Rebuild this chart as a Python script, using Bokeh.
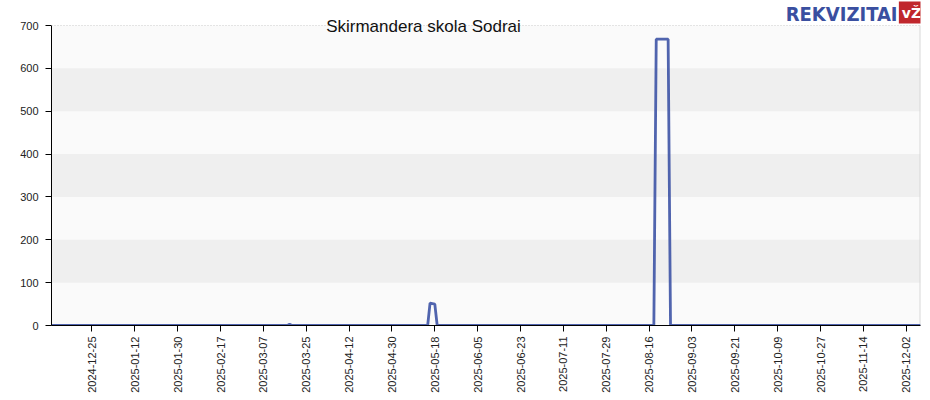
import pandas as pd
from math import pi
from bokeh.plotting import figure
from bokeh.models import (Range1d, FixedTicker, DatetimeTickFormatter, BoxAnnotation,
                          Span, Label)
from bokeh.embed import file_html
from bokeh.resources import INLINE

# ---- data ----
dates = ["2024-12-08", "2025-03-17", "2025-03-18", "2025-03-19", "2025-05-15",
         "2025-05-16", "2025-05-18", "2025-05-19", "2025-08-18", "2025-08-19",
         "2025-08-24", "2025-08-25", "2025-12-08"]
values = [0, 0, 3, 0, 0, 52, 50, 0, 0, 668, 668, 0, 0]

x_tick_labels = ["2024-12-25", "2025-01-12", "2025-01-30", "2025-02-17", "2025-03-07",
                 "2025-03-25", "2025-04-12", "2025-04-30", "2025-05-18", "2025-06-05",
                 "2025-06-23", "2025-07-11", "2025-07-29", "2025-08-16", "2025-09-03",
                 "2025-09-21", "2025-10-09", "2025-10-27", "2025-11-14", "2025-12-02"]
y_ticks = [0, 100, 200, 300, 400, 500, 600, 700]

title_text = "Skirmandera skola Sodrai"
x_start, x_end = "2024-12-08", "2025-12-08"

FONT = "Liberation Sans"

x = pd.to_datetime(dates)
xs = pd.Timestamp(x_start)
xe = pd.Timestamp(x_end)

# plot area 300px for 0..700; frame extends 25px higher to host the title and logo
y_top = y_ticks[-1] * 325 / 300

p = figure(x_axis_type="datetime", output_backend="svg", toolbar_location=None,
           frame_width=869, frame_height=325,
           min_border_left=51, min_border_right=2, min_border_top=0, min_border_bottom=67,
           x_range=Range1d(xs, xe), y_range=Range1d(0, y_top))
p.background_fill_color = "white"
p.border_fill_color = "white"
p.outline_line_color = None
p.xgrid.grid_line_color = None
p.ygrid.grid_line_color = None

# plot background and alternating bands
p.add_layout(BoxAnnotation(bottom=y_ticks[0], top=y_ticks[-1], fill_color="#fafafa",
                           fill_alpha=1.0, line_color=None, level="underlay"))
for i in range(len(y_ticks) - 1):
    if i % 2 == 1:
        p.add_layout(BoxAnnotation(bottom=y_ticks[i], top=y_ticks[i + 1],
                                   fill_color="#efefef", fill_alpha=1.0,
                                   line_color=None, level="underlay"))

p.add_layout(Span(location=y_ticks[-1], dimension="width", line_color="#cccccc",
                  line_dash="1 2", line_width=1))
p.segment(x0=[xe], y0=[y_ticks[0]], x1=[xe], y1=[y_ticks[-1]],
          line_color="#d8d8d8", line_width=2)

p.line(x, values, line_color="#3d53a5", line_width=2.8, line_alpha=0.9)

# axes
tick_ms = [pd.Timestamp(t).timestamp() * 1000 for t in x_tick_labels]
p.xaxis.ticker = FixedTicker(ticks=tick_ms)
fmt = "%Y-%m-%d"
p.xaxis.formatter = DatetimeTickFormatter(milliseconds=fmt, seconds=fmt, minsec=fmt,
                                          minutes=fmt, hourmin=fmt, hours=fmt, days=fmt,
                                          months=fmt, years=fmt)
p.xaxis.major_label_orientation = pi / 2
p.yaxis.ticker = FixedTicker(ticks=y_ticks)
p.yaxis.bounds = (y_ticks[0], y_ticks[-1])
for ax in (p.xaxis, p.yaxis):
    ax.axis_line_color = "black"
    ax.axis_line_width = 1
    ax.major_tick_line_color = "black"
    ax.major_tick_out = 6
    ax.major_tick_in = 0
    ax.minor_tick_line_color = None
    ax.major_label_text_font = FONT
    ax.major_label_text_font_size = "11px"
    ax.major_label_text_color = "#222222"
p.xaxis.major_label_standoff = 5
p.yaxis.major_label_standoff = 7

# title
p.add_layout(Label(x=372, y=299, x_units="screen", y_units="screen", text=title_text,
                   text_font=FONT, text_font_size="17px", text_color="#111111",
                   text_align="center", text_baseline="alphabetic"))

# logo
p.add_layout(Label(x=846, y=312, x_units="screen", y_units="screen", text="REKVIZITAI",
                   text_font="DejaVu Sans Condensed",
                   text_font_style="bold",
                   text_font_size="20px", text_color="#3a4fa0",
                   text_align="right", text_baseline="alphabetic"))
p.add_layout(Label(x=860, y=313, x_units="screen", y_units="screen", text="vŽ",
                   text_font="DejaVu Sans", text_font_style="bold",
                   text_font_size="14px", text_color="white",
                   text_align="center", text_baseline="middle",
                   background_fill_color="#c0272d", background_fill_alpha=1.0,
                   padding=3))

open("out.html", "w").write(file_html(p, INLINE))
